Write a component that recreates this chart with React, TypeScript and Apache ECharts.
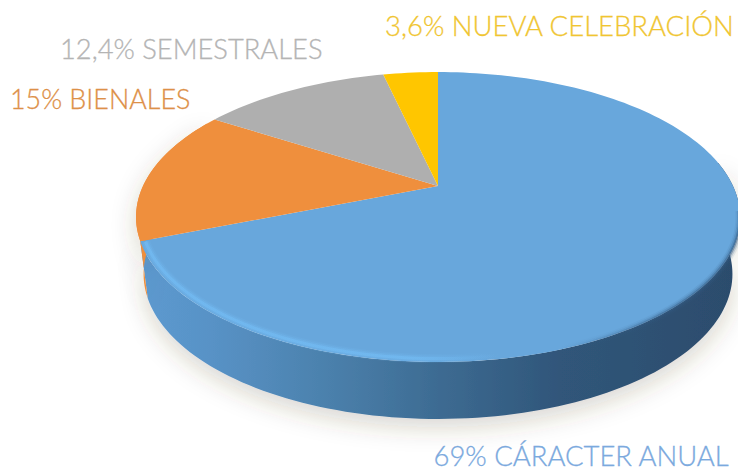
import React, { useEffect, useRef } from "react";
import * as echarts from "echarts";

const categories = ["CÁRACTER ANUAL", "BIENALES", "SEMESTRALES", "NUEVA CELEBRACIÓN"];
const shareLabels = ["69%", "15%", "12,4%", "3,6%"];
const values = [69, 15, 12.4, 3.6];
const sliceColors = ["#68a7dc", "#ef8f3d", "#afafaf", "#ffc600"];
const labelColors = ["#7ba9de", "#dd9048", "#b4b4b4", "#f0c531"];

// label anchors: [x, y of the text's middle, font size, horizontal scale]
const labelPlaces = [
  [433.5, 456, 27, 1.017],
  [10, 98, 27, 0.995],
  [60, 49, 27, 1.012],
  [385, 26, 27, 1.018],
];

const VX = 438, VY = 186; // apex of the pie
const A = 295, B = 138.3, P = 0.214; // perspective projection of the disc
const DEPTH = 57, BOTTOM_SCALE = 0.975;
const VISIBLE_FROM = 80, VISIBLE_TO = 300;

const project = (deg: number, k = 1) => {
  const t = (deg * Math.PI) / 180;
  const u = Math.sin(t) * k;
  const v = -Math.cos(t) * k;
  const w = 1 - P * v;
  return [VX + (A * u) / w, VY + (B * v) / w];
};
const lower = (p: number[]) => [VX + (p[0] - VX) * BOTTOM_SCALE, p[1] + DEPTH];

const total = values.reduce((a, b) => a + b, 0);
const spanOf = (i: number) => {
  const before = values.slice(0, i).reduce((a, b) => a + b, 0);
  return [(before / total) * 360, ((before + values[i]) / total) * 360];
};
const arc = (from: number, to: number, k = 1) => {
  const n = Math.max(2, Math.ceil((to - from) / 1.5));
  const pts: number[][] = [];
  for (let j = 0; j <= n; j++) pts.push(project(from + ((to - from) * j) / n, k));
  return pts;
};
const hGrad = (x1: number, x2: number, stops: [number, string][]) =>
  new echarts.graphic.LinearGradient(
    x1, 0, x2, 0,
    stops.map(([offset, color]) => ({ offset, color })),
    true
  );

const blueWall = () =>
  hGrad(140, 738, [
    [0, "#5c9ad0"],
    [0.12, "#5892c6"],
    [0.3, "#4c82ae"],
    [0.5, "#3d6b92"],
    [0.7, "#30567a"],
    [1, "#2c4c6c"],
  ]);

const renderWall = (params: any) => {
  const i = params.dataIndex;
  const [s, e] = spanOf(i);
  const from = Math.max(s, VISIBLE_FROM);
  const to = Math.min(e, VISIBLE_TO);
  if (to <= from) return { type: "group", children: [] };
  const top = arc(from, to);
  const points = [...top, ...top.slice().reverse().map(lower)];
  return {
    type: "polygon",
    shape: { points },
    style: {
      fill: i === 0 ? blueWall() : sliceColors[i],
      shadowBlur: 24,
      shadowOffsetY: 8,
      shadowColor: "rgba(70,60,40,0.22)",
    },
  };
};

const lightRim = (a: number) =>
  hGrad(140, 738, [
    [0, `rgba(116,190,246,${a})`],
    [0.45, `rgba(116,190,246,${a})`],
    [0.6, "rgba(116,190,246,0)"],
    [1, "rgba(116,190,246,0)"],
  ]);
const darkRim = (a: number) =>
  hGrad(140, 738, [
    [0, "rgba(50,90,130,0)"],
    [0.7, "rgba(50,90,130,0)"],
    [0.9, `rgba(50,90,130,${a})`],
    [1, `rgba(50,90,130,${a})`],
  ]);

const renderFace = (params: any) => {
  const i = params.dataIndex;
  const [s, e] = spanOf(i);
  const children: any[] = [
    {
      type: "polygon",
      shape: { points: [[VX, VY], ...arc(s, e)] },
      style: { fill: sliceColors[i] },
    },
  ];
  if (i === 0) {
    const layers: [number, number][] = [
      [9, 0.12],
      [6, 0.25],
      [3, 0.55],
    ];
    layers.forEach(([lineWidth, a]) =>
      children.push({
        type: "polyline",
        shape: { points: arc(130, e - 0.5, 0.985) },
        style: { fill: "none", lineWidth, stroke: lightRim(a) },
      })
    );
    layers.forEach(([lineWidth, a]) =>
      children.push({
        type: "polyline",
        shape: { points: arc(100, 170, 1) },
        style: { fill: "none", lineWidth, stroke: darkRim(a * 0.8) },
      })
    );
  }
  return { type: "group", children };
};

export default function App() {
  const ref = useRef<HTMLDivElement>(null);
  useEffect(() => {
    document.body.style.margin = "0";
    const chart = echarts.init(ref.current!, null, { renderer: "svg" });
    chart.setOption({
      animation: false,
      backgroundColor: "#ffffff",
      series: [
        { type: "custom", coordinateSystem: "none", silent: true, clip: false, renderItem: renderWall, data: values },
        { type: "custom", coordinateSystem: "none", silent: true, clip: false, renderItem: renderFace, data: values },
      ],
      graphic: categories.map((c, i) => ({
        type: "text",
        silent: true,
        x: labelPlaces[i][0],
        y: labelPlaces[i][1],
        scaleX: labelPlaces[i][3],
        style: {
          text: `${shareLabels[i]} ${c}`,
          fill: labelColors[i],
          stroke: labelColors[i],
          lineWidth: 0.3,
          font: `300 ${labelPlaces[i][2]}px Lato`,
          lineHeight: 22,
          align: "left",
          verticalAlign: "middle",
        },
      })),
    });
    return () => chart.dispose();
  }, []);
  return <div ref={ref} style={{ position: "fixed", left: 0, top: 0, width: 738, height: 472 }} />;
}
